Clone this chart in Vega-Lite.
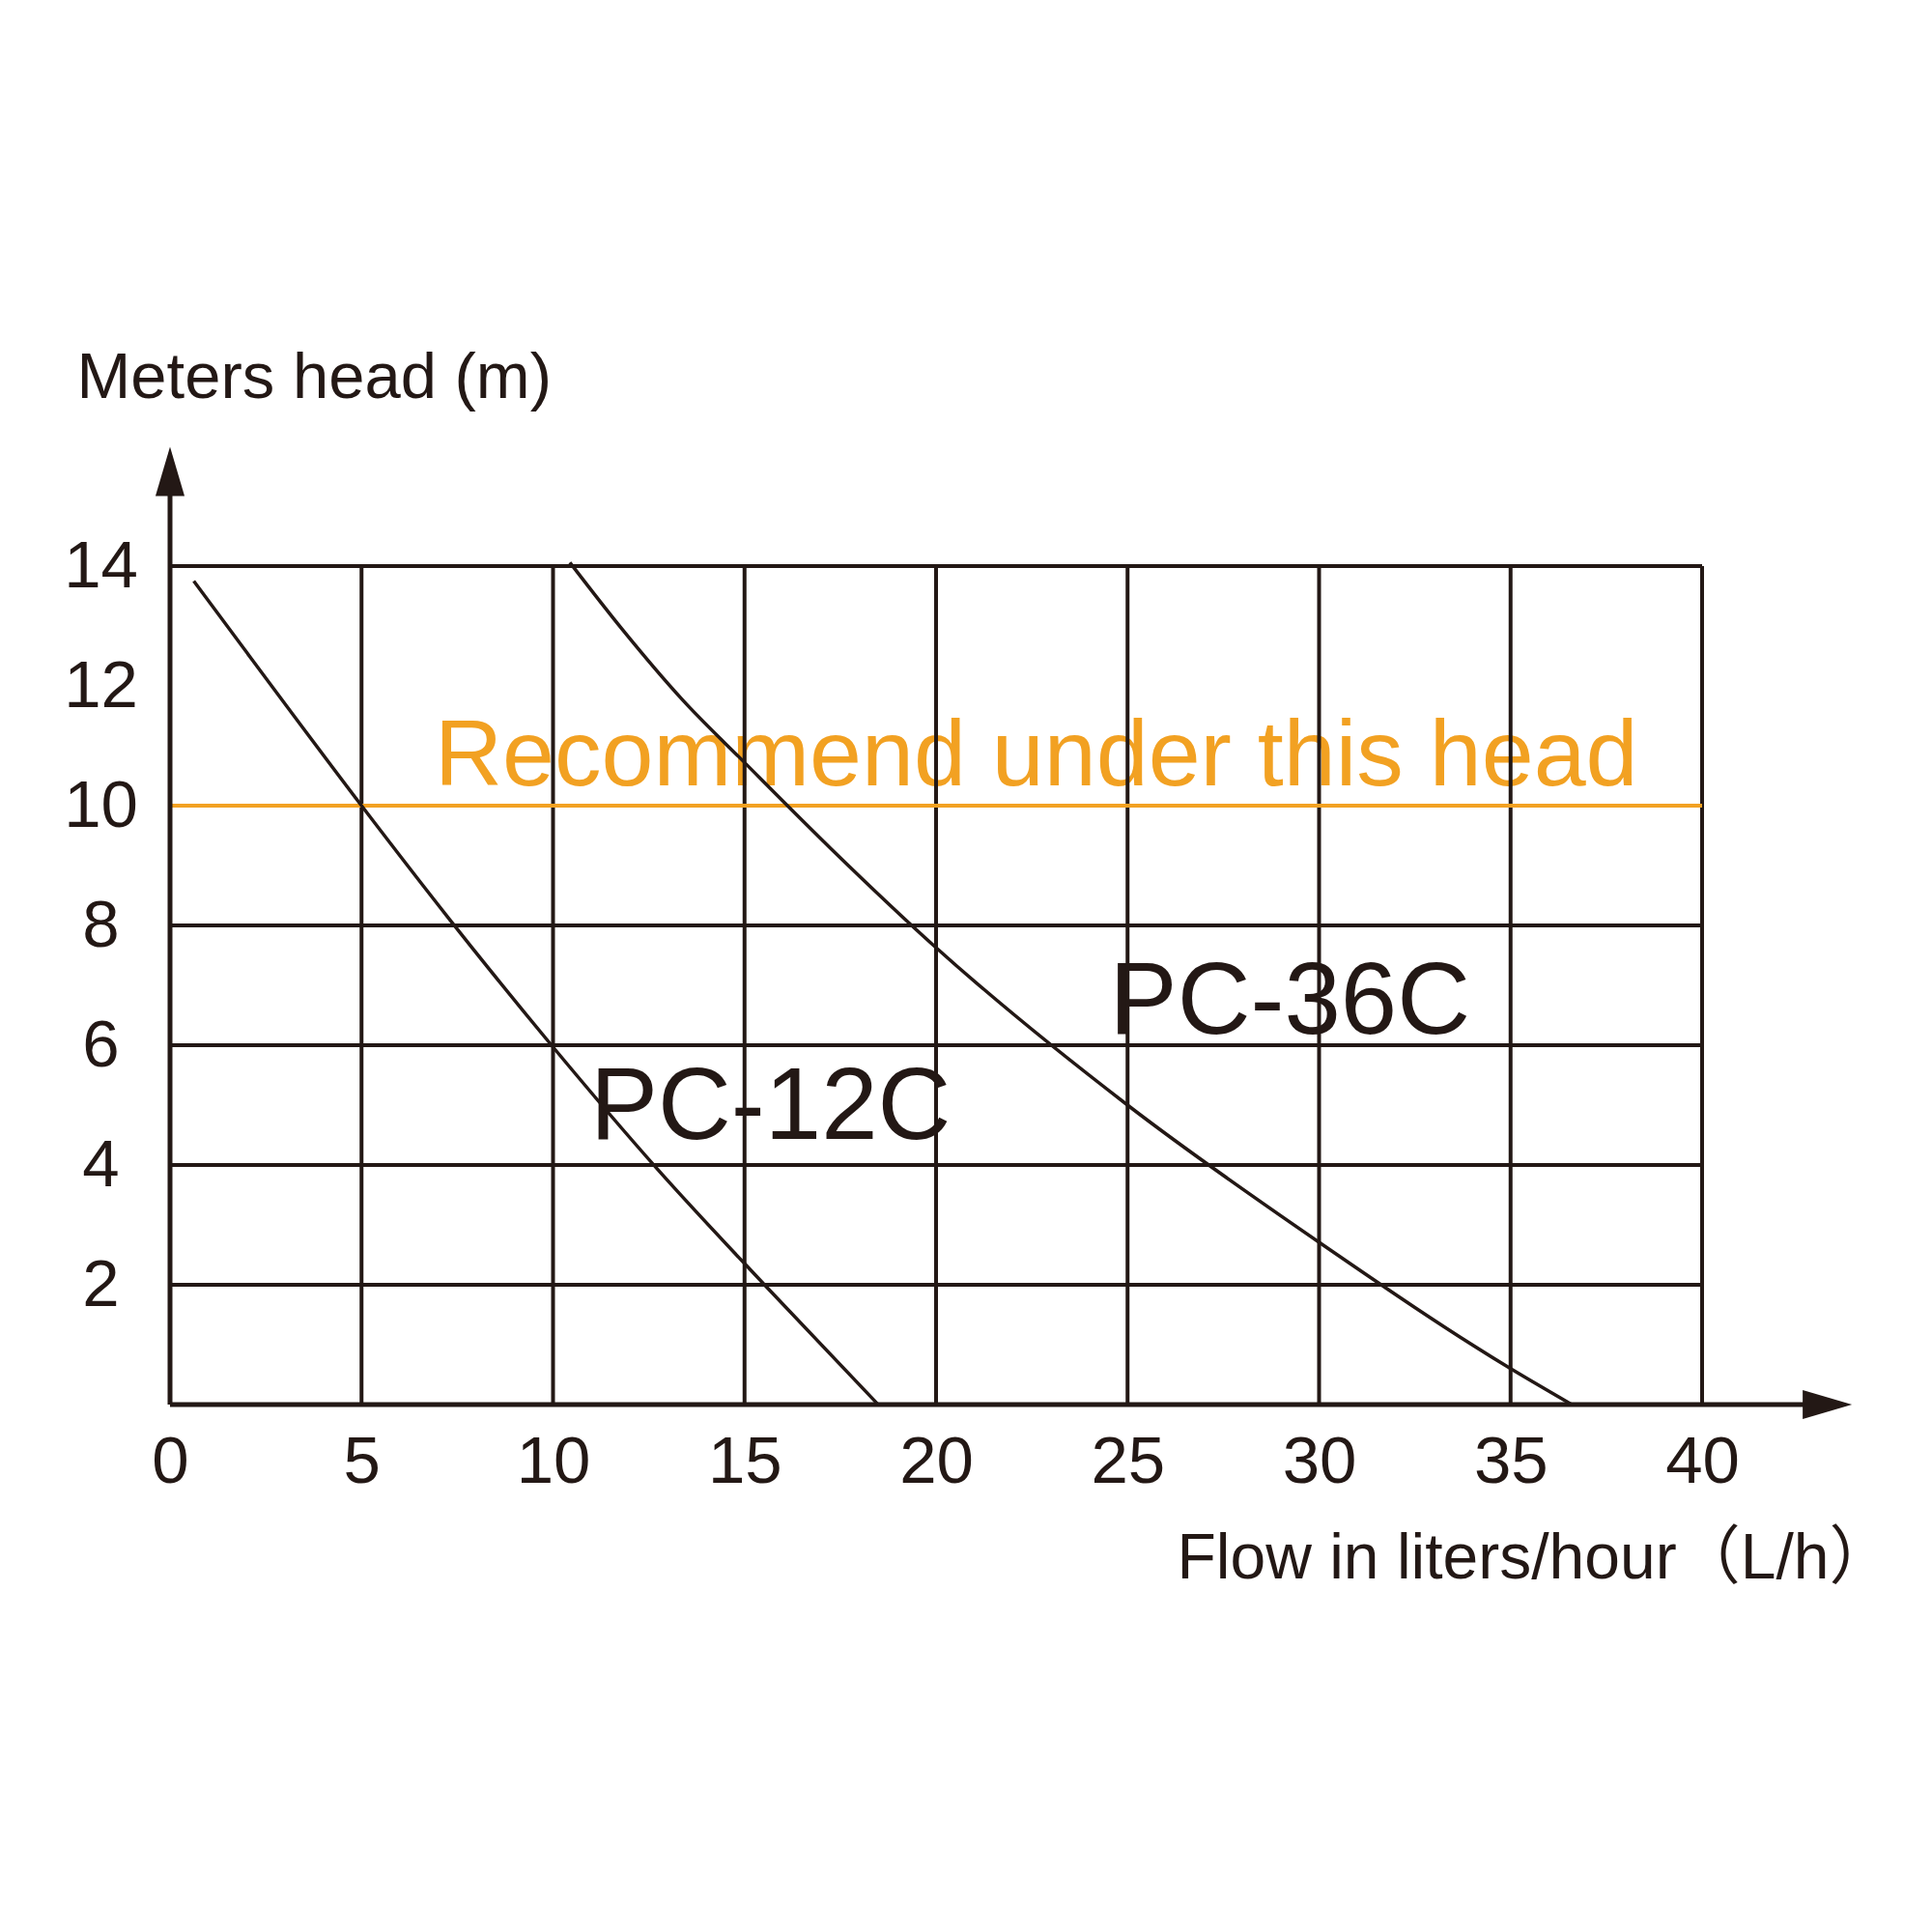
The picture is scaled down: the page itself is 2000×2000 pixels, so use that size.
{
  "$schema": "https://vega.github.io/schema/vega-lite/v6.json",
  "width": 1586,
  "height": 868,
  "autosize": {"type": "none"},
  "padding": {"left": 176, "top": 586, "right": 238, "bottom": 546},
  "background": "white",
  "config": {
    "view": {"stroke": null},
    "font": "Liberation Sans",
    "axis": {"domain": false, "ticks": false, "tickSize": 0, "grid": false, "labelFont": "Liberation Sans", "titleFont": "Liberation Sans, Noto Sans CJK TC", "labelColor": "#231815", "titleColor": "#231815", "titleFontWeight": "normal"}
  },
  "layer": [
    {
      "data": {"values": [{"label": "Recommend under this head", "x": 6.91, "y": 10.34}]},
      "mark": {"type": "text", "align": "left", "baseline": "alphabetic", "fontSize": 97, "color": "#F2A122", "font": "Liberation Sans"},
      "encoding": {
        "x": {
          "field": "x", "type": "quantitative",
          "scale": {"domain": [0, 40], "nice": false, "zero": false},
          "axis": {
            "values": [0, 5, 10, 15, 20, 25, 30, 35, 40],
            "format": "d",
            "title": "Flow in liters/hour（L/h）",
            "titleAlign": "left", "titleBaseline": "alphabetic", "titleX": 1042, "titleY": 179, "titleFontSize": 66,
            "labelFontSize": 69, "labelPadding": 25, "labelFlush": false, "labelOverlap": false, "labelBaseline": "top"
          }
        },
        "y": {
          "field": "y", "type": "quantitative",
          "scale": {"domain": [0, 14], "nice": false, "zero": false},
          "axis": {
            "values": [2, 4, 6, 8, 10, 12, 14],
            "format": "d",
            "title": "Meters head (m)",
            "titleAngle": 0, "titleAlign": "left", "titleBaseline": "alphabetic", "titleX": -97, "titleY": -175, "titleFontSize": 67,
            "labelFontSize": 69, "labelAlign": "center", "labelBaseline": "middle", "labelPadding": 72, "labelOverlap": false, "labelFlush": false
          }
        },
        "text": {"field": "label"}
      }
    },
    {
      "data": {"values": [{"label": "PC-12C", "x": 10.97, "y": 4.44}, {"label": "PC-36C", "x": 24.53, "y": 6.19}]},
      "mark": {"type": "text", "align": "left", "baseline": "alphabetic", "fontSize": 105, "color": "#231815", "font": "Liberation Sans"},
      "encoding": {
        "x": {"field": "x", "type": "quantitative"},
        "y": {"field": "y", "type": "quantitative"},
        "text": {"field": "label"}
      }
    },
    {
      "data": {"values": [{"y": 2}, {"y": 4}, {"y": 6}, {"y": 8}, {"y": 14}]},
      "mark": {"type": "rule", "color": "#231815", "strokeWidth": 4},
      "encoding": {
        "y": {"field": "y", "type": "quantitative"},
        "x": {"datum": 0, "type": "quantitative"},
        "x2": {"datum": 40}
      }
    },
    {
      "data": {"values": [{"x": 5}, {"x": 10}, {"x": 15}, {"x": 20}, {"x": 25}, {"x": 30}, {"x": 35}, {"x": 40}]},
      "mark": {"type": "rule", "color": "#231815", "strokeWidth": 4},
      "encoding": {
        "x": {"field": "x", "type": "quantitative"},
        "y": {"datum": 0, "type": "quantitative"},
        "y2": {"datum": 14}
      }
    },
    {
      "data": {"values": [{"y": 10}]},
      "mark": {"type": "rule", "color": "#F2A122", "strokeWidth": 4},
      "encoding": {
        "y": {"field": "y", "type": "quantitative"},
        "x": {"datum": 0, "type": "quantitative"},
        "x2": {"datum": 40}
      }
    },
    {
      "data": {"values": [
        {"model": "PC-12C", "x": 0.62, "y": 13.75},
        {"model": "PC-12C", "x": 2.14, "y": 12.44},
        {"model": "PC-12C", "x": 5.0, "y": 10.0},
        {"model": "PC-12C", "x": 7.3, "y": 8.1},
        {"model": "PC-12C", "x": 9.96, "y": 6.0},
        {"model": "PC-12C", "x": 12.7, "y": 3.95},
        {"model": "PC-12C", "x": 15.52, "y": 2.0},
        {"model": "PC-12C", "x": 18.49, "y": 0.0},
        {"model": "PC-36C", "x": 10.44, "y": 14.06},
        {"model": "PC-36C", "x": 11.8, "y": 12.95},
        {"model": "PC-36C", "x": 13.39, "y": 11.76},
        {"model": "PC-36C", "x": 15.0, "y": 10.72},
        {"model": "PC-36C", "x": 17.26, "y": 9.28},
        {"model": "PC-36C", "x": 20.0, "y": 7.63},
        {"model": "PC-36C", "x": 25.0, "y": 5.0},
        {"model": "PC-36C", "x": 30.0, "y": 2.71},
        {"model": "PC-36C", "x": 35.0, "y": 0.6},
        {"model": "PC-36C", "x": 36.6, "y": 0.0}
      ]},
      "mark": {"type": "line", "color": "#231815", "strokeWidth": 3.5, "interpolate": "monotone"},
      "encoding": {
        "x": {"field": "x", "type": "quantitative"},
        "y": {"field": "y", "type": "quantitative"},
        "detail": {"field": "model"}
      }
    },
    {
      "data": {"values": [{"x": 0, "x2": 42.7}]},
      "mark": {"type": "rule", "color": "#231815", "strokeWidth": 5},
      "encoding": {
        "x": {"field": "x", "type": "quantitative"},
        "x2": {"field": "x2"},
        "y": {"datum": 0, "type": "quantitative"}
      }
    },
    {
      "data": {"values": [{"y": 0, "y2": 15.25}]},
      "mark": {"type": "rule", "color": "#231815", "strokeWidth": 5},
      "encoding": {
        "y": {"field": "y", "type": "quantitative"},
        "y2": {"field": "y2"},
        "x": {"datum": 0, "type": "quantitative"}
      }
    },
    {
      "data": {"values": [{"x": 0, "y": 15.58}]},
      "mark": {"type": "point", "shape": "M0,-1L0.59,1L-0.59,1Z", "size": 2601, "filled": true, "opacity": 1, "color": "#231815", "strokeWidth": 0},
      "encoding": {
        "x": {"field": "x", "type": "quantitative"},
        "y": {"field": "y", "type": "quantitative"}
      }
    },
    {
      "data": {"values": [{"x": 43.27, "y": 0}]},
      "mark": {"type": "point", "shape": "M1,0L-1,0.59L-1,-0.59Z", "size": 2601, "filled": true, "opacity": 1, "color": "#231815", "strokeWidth": 0},
      "encoding": {
        "x": {"field": "x", "type": "quantitative"},
        "y": {"field": "y", "type": "quantitative"}
      }
    }
  ]
}
